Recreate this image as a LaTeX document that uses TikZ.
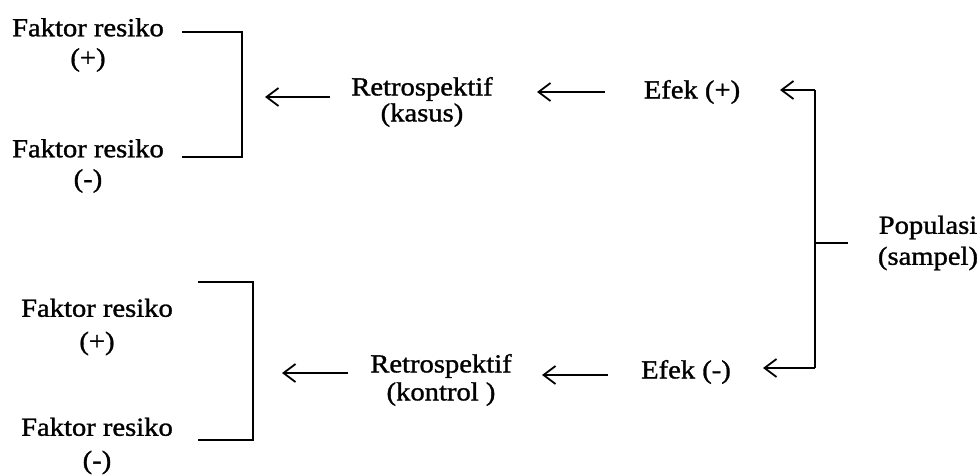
\documentclass[tikz,border=0pt]{standalone}
\usepackage{fontspec}
\setmainfont{Liberation Serif}[FakeStretch=1.1,FakeBold=1.2]
\usetikzlibrary{arrows.meta}
\tikzset{
  lbl/.style={align=center, inner sep=0pt, font=\fontsize{26}{30}\selectfont},
  ln/.style={line width=1.8pt},
  arr/.style={line width=1.6pt, -{Straight Barb[length=12pt,width=18pt,line width=1.8pt]}},
}
\begin{document}
\begin{tikzpicture}[x=1pt,y=-1pt]
\useasboundingbox (0,0) rectangle (979,476);
% nodes
\node[lbl] (f1) at (88,45) {Faktor resiko\\(+)};
\node[lbl] (f2) at (88,166) {Faktor resiko\\(-)};
\node[lbl, font=\fontsize{26}{26}\selectfont] (r1) at (422,102) {Retrospektif\\(kasus)};
\node[lbl] (e1) at (692,92) {Efek (+)};
\node[lbl, font=\fontsize{26}{31}\selectfont] (pop) at (928,243) {Populasi\\(sampel)};
\node[lbl, font=\fontsize{26}{33}\selectfont] (f3) at (97,327) {Faktor resiko\\(+)};
\node[lbl, font=\fontsize{26}{33}\selectfont] (f4) at (97,446) {Faktor resiko\\(-)};
\node[lbl, font=\fontsize{26}{28}\selectfont] (r2) at (441,380) {Retrospektif\\(kontrol )};
\node[lbl] (e2) at (686,372) {Efek (-)};
% coordinates
\coordinate (b1a) at (182,32);
\coordinate (b1v) at (242,32);
\coordinate (b1b) at (182,157);
\coordinate (b1w) at (242,157);
\coordinate (b2a) at (198,282);
\coordinate (b2v) at (253,282);
\coordinate (b2b) at (198,440);
\coordinate (b2w) at (253,440);
\coordinate (a1s) at (330,97);
\coordinate (a1e) at (265,97);
\coordinate (a2s) at (605,92);
\coordinate (a2e) at (537,92);
\coordinate (a3s) at (348,373);
\coordinate (a3e) at (282,373);
\coordinate (a4s) at (608,375);
\coordinate (a4e) at (542,375);
\coordinate (pt) at (815,90);
\coordinate (pb) at (815,368);
\coordinate (pm) at (815,243);
\coordinate (pr) at (848,243);
\coordinate (te1) at (780,90);
\coordinate (te2) at (763,368);
% brackets
\draw[ln] (b1a) -- (b1v) -- (b1w) -- (b1b);
\draw[ln] (b2a) -- (b2v) -- (b2w) -- (b2b);
% arrows
\draw[arr] (a1s) -- (a1e);
\draw[arr] (a2s) -- (a2e);
\draw[arr] (a3s) -- (a3e);
\draw[arr] (a4s) -- (a4e);
% population bracket
\draw[ln] (pm) -- (pr);
\draw[ln] (pt) -- (pb);
\draw[arr] (pt) -- (te1);
\draw[arr] (pb) -- (te2);
\end{tikzpicture}
\end{document}
